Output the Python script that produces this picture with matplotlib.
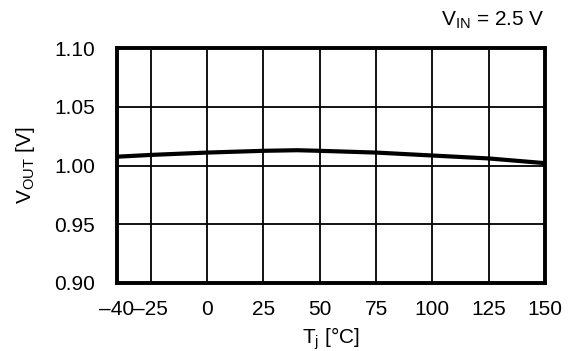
import matplotlib
matplotlib.use('Agg')
import matplotlib.pyplot as plt

# data
temp = [-40, -25, 0, 25, 40, 50, 75, 100, 125, 150]
vout = [1.0075, 1.009, 1.011, 1.0125, 1.013, 1.0125, 1.011, 1.0085, 1.006, 1.002]
xticks = [-40, -25, 0, 25, 50, 75, 100, 125, 150]
xlabels = ['–40', '–25', '0', '25', '50', '75', '100', '125', '150']
yticks = [0.90, 0.95, 1.00, 1.05, 1.10]

plt.rcParams['font.family'] = ['Liberation Sans', 'DejaVu Sans']
plt.rcParams['mathtext.fontset'] = 'custom'
plt.rcParams['mathtext.rm'] = 'Liberation Sans'
plt.rcParams['mathtext.it'] = 'Liberation Sans'

fig = plt.figure(figsize=(5.69, 3.51), dpi=100)
ax = fig.add_axes([117 / 569, 1 - 283 / 351, (545 - 117) / 569, (283 - 48) / 351])

ax.plot(temp, vout, color='black', lw=3, solid_capstyle='butt')

ax.set_xlim(-40, 150)
ax.set_ylim(0.90, 1.10)
ax.set_xticks(xticks)
ax.set_xticklabels(xlabels)
ax.set_yticks(yticks)
ax.set_yticklabels(['%.2f' % v for v in yticks])
ax.grid(True, color='black', lw=1.3)
ax.tick_params(axis='x', length=0, labelsize=15, pad=12)
ax.tick_params(axis='y', length=0, labelsize=15, pad=16)
for s in ax.spines.values():
    s.set_linewidth(2.8)

ax.set_xlabel(r'T$_{\mathrm{j}}$ [°C]', fontsize=15, labelpad=5)
ax.set_ylabel(r'V$_{\mathrm{OUT}}$ [V]', fontsize=15, labelpad=12)
fig.text(545 / 569, 1 - 20 / 351, r'V$_{\mathrm{IN}}$ = 2.5 V', fontsize=15,
         ha='right', va='center')

fig.savefig('out.png', dpi=100)
